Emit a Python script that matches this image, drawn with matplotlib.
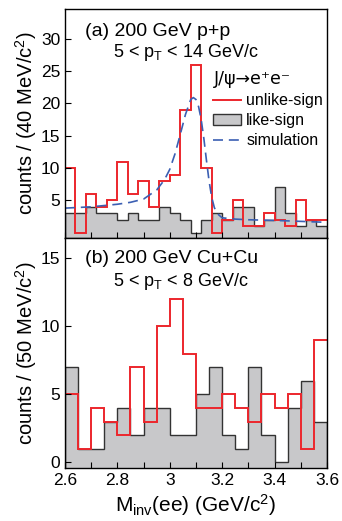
import numpy as np
import matplotlib
matplotlib.use("Agg")
import matplotlib.pyplot as plt
from matplotlib.patches import Patch
from matplotlib.lines import Line2D

plt.rcParams["font.family"] = ["Liberation Sans", "DejaVu Sans"]
plt.rcParams["mathtext.fontset"] = "custom"
plt.rcParams["mathtext.rm"] = "Liberation Sans"
plt.rcParams["mathtext.it"] = "Liberation Sans:italic"
plt.rcParams["mathtext.default"] = "regular"

# p+p, 40 MeV bins from 2.6 to 3.6
pp_edges = np.linspace(2.6, 3.6, 26)
pp_unlike = [10, 0, 6, 4, 5, 11, 6, 8, 4, 8, 9, 19, 26, 10, 0, 2, 5, 1, 1, 3, 2, 1, 5, 2, 2]
pp_like = [3, 3, 4, 3, 3, 2, 3, 2, 2, 4, 3, 2, 0, 2, 3, 2, 4, 4, 1, 2, 7, 3, 1, 2, 1]
sim_x = [2.60, 2.65, 2.70, 2.75, 2.80, 2.85, 2.90, 2.95, 2.98, 3.00, 3.02, 3.04, 3.06,
         3.08, 3.09, 3.10, 3.11, 3.12, 3.13, 3.14, 3.15, 3.16, 3.17, 3.18, 3.20, 3.25,
         3.30, 3.40, 3.50, 3.60]
sim_y = [3.8, 3.9, 4.0, 4.2, 4.4, 4.7, 5.2, 6.6, 8.2, 9.8, 12.2, 15.2, 18.3,
         20.6, 20.9, 20.6, 19.5, 17.5, 14.6, 11.2, 8.0, 5.5, 3.9, 3.0, 2.3, 2.1,
         2.0, 1.9, 1.75, 1.6]

# Cu+Cu, 50 MeV bins
cu_edges = np.linspace(2.6, 3.6, 21)
cu_unlike = [5, 1, 4, 3, 2, 7, 3, 10, 12, 8, 4, 4, 5, 4, 3, 5, 4, 5, 1, 9]
cu_like = [7, 1, 1, 3, 4, 2, 4, 4, 2, 2, 5, 7, 2, 1, 7, 2, 0, 4, 6, 3]

red = "#ec262c"
gray_fill = "#c8c8ca"
blue = "#3b5fb3"

fig = plt.figure(figsize=(3.42, 5.21), dpi=100)
ax1 = fig.add_axes([0.190, 0.5432, 0.766, 0.4395])
ax2 = fig.add_axes([0.190, 0.1017, 0.766, 0.4415])

for ax, edges, like, unlike in [(ax1, pp_edges, pp_like, pp_unlike),
                                (ax2, cu_edges, cu_like, cu_unlike)]:
    ax.stairs(like, edges, fill=True, baseline=-10, color=gray_fill, lw=0)
    ax.stairs(like, edges, baseline=-10, color="#333333", lw=1.0)
    ax.stairs(unlike, edges, baseline=None, color=red, lw=1.4)
    ax.set_xlim(2.6, 3.6)
    ax.set_xticks(np.arange(2.6, 3.61, 0.2))
    ax.set_xticks(np.arange(2.7, 3.6, 0.2), minor=True)
    ax.tick_params(which="both", direction="in", length=4, width=0.8,
                   labelsize=12.5, top=False, right=False)
    for s in ax.spines.values():
        s.set_linewidth(1.0)

ax1.plot(sim_x, sim_y, color=blue, lw=1.2, ls=(0, (6, 3.5)))
ax1.set_ylim(-0.82, 34.6)
ax1.set_yticks([5, 10, 15, 20, 25, 30])
ax1.tick_params(labelbottom=False)
ax1.set_ylabel("counts / (40 MeV/c$^2$)", fontsize=14.5, labelpad=1)
ax1.text(0.078, 0.90, "(a) 200 GeV p+p", transform=ax1.transAxes, fontsize=14,
         va="center")
ax1.text(0.183, 0.81, "5 < p$_T$ < 14 GeV/c", transform=ax1.transAxes, fontsize=13,
         va="center")

handles = [Line2D([], [], color=red, lw=1.4),
           Patch(facecolor=gray_fill, edgecolor="#333333", lw=1.0),
           Line2D([], [], color=blue, lw=1.2, ls=(0, (6, 3.5)))]
leg = ax1.legend(handles, ["unlike-sign", "like-sign", "simulation"],
                 title="J/ψ→e⁺e⁻", loc="upper right",
                 bbox_to_anchor=(1.015, 0.768), frameon=False, fontsize=11.5,
                 title_fontproperties={"family": ["DejaVu Sans"], "size": 12.5},
                 handlelength=1.75, handletextpad=0.3,
                 labelspacing=0.32, borderaxespad=0.1)
leg._legend_box.align = "left"

ax2.set_ylim(-0.42, 16.5)
ax2.set_yticks([0, 5, 10, 15])
ax2.set_ylabel("counts / (50 MeV/c$^2$)", fontsize=14.5, labelpad=1)
ax2.set_xticklabels(["2.6", "2.8", "3", "3.2", "3.4", "3.6"])
ax2.set_xlabel("M$_{inv}$(ee) (GeV/c$^2$)", fontsize=15, labelpad=3)
ax2.text(0.078, 0.91, "(b) 200 GeV Cu+Cu", transform=ax2.transAxes, fontsize=14,
         va="center")
ax2.text(0.183, 0.81, "5 < p$_T$ < 8 GeV/c", transform=ax2.transAxes, fontsize=13,
         va="center")

fig.savefig("out.png", dpi=100)
